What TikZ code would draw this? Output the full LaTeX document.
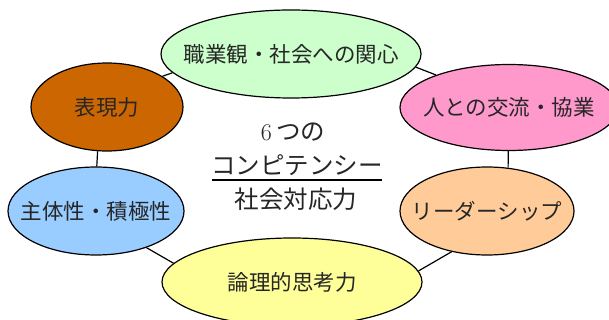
\documentclass[tikz,border=0pt]{standalone}
\usepackage{fontspec}
\newfontfamily\jp{Noto Sans CJK JP}
\usetikzlibrary{shapes.geometric}
\definecolor{cgreen}{HTML}{CCFFCC}
\definecolor{cbrown}{HTML}{CC6600}
\definecolor{cpink}{HTML}{FF99CC}
\definecolor{corange}{HTML}{FFCC99}
\definecolor{cblue}{HTML}{99CCFF}
\definecolor{cyellow}{HTML}{FFFF99}
\newcommand{\zw}[1]{\makebox[0pt][c]{#1}}
\begin{document}
\begin{tikzpicture}[x=1pt,y=-1pt,
  ell/.style={ellipse,draw=black,line width=1.2pt,inner sep=0pt,font=\jp\fontsize{21.5}{24}\selectfont,text=black!85},
  link/.style={draw=black,line width=1.2pt},
  ctext/.style={inner sep=0pt,font=\jp\fontsize{24.5}{28}\selectfont,text=black!85}]
\useasboundingbox (0,0) rectangle (609,320);
\node[ell,fill=cgreen,minimum width=260pt,minimum height=88pt] (G) at (291,54) {\zw{職業観・社会への関心}};
\node[ell,fill=cbrown,minimum width=152pt,minimum height=88pt] (B) at (107,107) {\zw{表現力}};
\node[ell,fill=cpink,minimum width=218pt,minimum height=86pt] (P) at (509,107.5) {\zw{人との交流・協業}};
\node[ell,fill=corange,minimum width=174pt,minimum height=88pt] (O) at (487,211) {\zw{リーダーシップ}};
\node[ell,fill=cblue,minimum width=176pt,minimum height=88pt] (L) at (96,211) {\zw{主体性・積極性}};
\node[ell,fill=cyellow,minimum width=260pt,minimum height=88pt] (Y) at (292,282) {\zw{論理的思考力}};
\draw[link] (B.29) -- (G.189);
\draw[link] (G.354) -- (P.156);
\draw[link] (B.258) -- (L.89);
\draw[link] (P.269) -- (O.64);
\draw[link] (L.324) -- (Y.171);
\draw[link] (O.229.5) -- (Y.5);
\node[ctext] (c1) at (293,132) {{\rmfamily\fontsize{24}{26}\selectfont 6}\,つの};
\node[ctext] (c2) at (297,165) {コンピテンシー};
\node[ctext] (c3) at (296,199) {社会対応力};
\draw[line width=1.3pt] (212,180) coordinate (u1) -- (382,180) coordinate (u2);
\end{tikzpicture}
\end{document}
